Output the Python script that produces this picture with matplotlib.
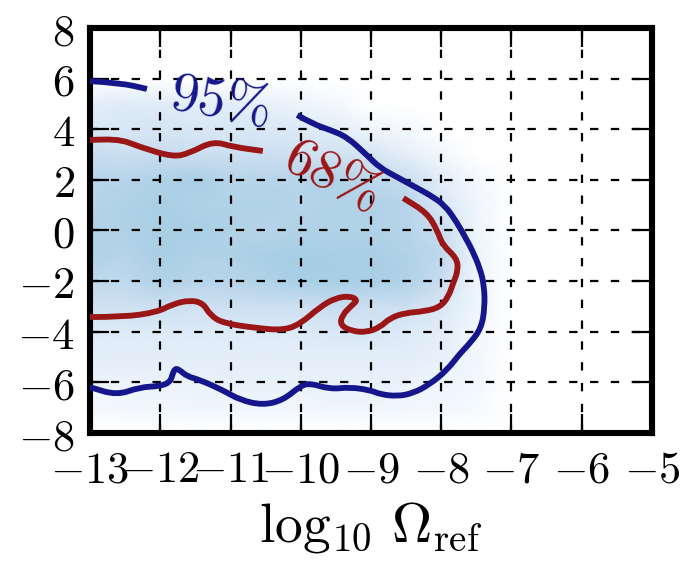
import numpy as np
import matplotlib
matplotlib.use("Agg")
import matplotlib.pyplot as plt
from matplotlib.path import Path
from matplotlib.patches import PathPatch
from matplotlib.colors import ListedColormap

# density grid (nodes), 0 = white .. 1 = dark blue
grid_x = [-13, -12.5, -12, -11.5, -11, -10.5, -10, -9.5, -9, -8.5, -8, -7.5, -7]
grid_y = [6, 5, 4, 3, 2, 1, 0, -1, -2, -3, -4, -5, -6, -7, -8]
density = [
    [0.00, 0.00, 0.00, 0.00, 0.00, 0.00, 0.00, 0.00, 0.00, 0.00, 0.00, 0.00, 0.00],
    [0.10, 0.12, 0.12, 0.10, 0.10, 0.08, 0.05, 0.02, 0.00, 0.00, 0.00, 0.00, 0.00],
    [0.16, 0.16, 0.17, 0.16, 0.15, 0.15, 0.13, 0.10, 0.05, 0.02, 0.00, 0.00, 0.00],
    [0.24, 0.22, 0.24, 0.22, 0.22, 0.22, 0.20, 0.20, 0.17, 0.09, 0.03, 0.00, 0.00],
    [0.30, 0.30, 0.32, 0.34, 0.30, 0.30, 0.30, 0.32, 0.28, 0.24, 0.10, 0.02, 0.00],
    [0.30, 0.32, 0.34, 0.32, 0.32, 0.32, 0.30, 0.32, 0.32, 0.30, 0.16, 0.04, 0.00],
    [0.32, 0.32, 0.34, 0.34, 0.32, 0.30, 0.32, 0.32, 0.32, 0.30, 0.24, 0.05, 0.00],
    [0.32, 0.30, 0.34, 0.32, 0.32, 0.34, 0.35, 0.34, 0.34, 0.32, 0.27, 0.05, 0.00],
    [0.27, 0.27, 0.32, 0.30, 0.30, 0.32, 0.34, 0.34, 0.34, 0.32, 0.24, 0.05, 0.00],
    [0.20, 0.20, 0.22, 0.20, 0.22, 0.22, 0.22, 0.24, 0.22, 0.22, 0.16, 0.04, 0.00],
    [0.13, 0.13, 0.13, 0.13, 0.13, 0.13, 0.13, 0.15, 0.16, 0.13, 0.10, 0.03, 0.00],
    [0.10, 0.10, 0.10, 0.10, 0.10, 0.10, 0.10, 0.10, 0.10, 0.10, 0.08, 0.03, 0.00],
    [0.06, 0.06, 0.06, 0.07, 0.08, 0.08, 0.08, 0.08, 0.08, 0.07, 0.05, 0.02, 0.00],
    [0.02, 0.03, 0.04, 0.04, 0.04, 0.04, 0.03, 0.04, 0.04, 0.03, 0.03, 0.01, 0.00],
    [0.00, 0.00, 0.00, 0.00, 0.00, 0.00, 0.00, 0.00, 0.00, 0.00, 0.00, 0.00, 0.00],
]

# 95% contour, two pieces (gap for the label)
c95a_x = [-13.0, -12.57, -12.19]
c95a_y = [5.90, 5.83, 5.59]
c95b_x = [-10.05, -9.83, -9.58, -9.34, -9.06, -8.87, -8.63, -8.40, -8.16, -7.95, -7.78,
          -7.66, -7.56, -7.45, -7.39, -7.38, -7.43, -7.59, -7.73, -7.92, -8.16, -8.40,
          -8.63, -8.87, -9.01, -9.30, -9.58, -9.87, -10.01, -10.25, -10.54, -10.86,
          -11.11, -11.43, -11.62, -11.72, -11.79, -11.83, -11.86, -12.00, -12.29,
          -12.62, -13.0]
c95b_y = [4.56, 4.21, 3.97, 3.69, 2.98, 2.47, 2.11, 1.76, 1.40, 1.00, 0.33,
          -0.26, -0.77, -1.49, -2.16, -3.03, -3.86, -4.45, -4.85, -5.52, -6.07, -6.43,
          -6.55, -6.47, -6.31, -6.19, -6.27, -6.03, -6.15, -6.70, -6.90, -6.70,
          -6.31, -5.91, -5.76, -5.52, -5.44, -5.72, -5.99, -6.15, -6.19,
          -6.51, -6.19]

# 68% contour, two pieces
c68a_x = [-13.0, -12.62, -12.29, -11.82, -11.58, -11.25, -10.96, -10.54]
c68a_y = [3.57, 3.65, 3.30, 2.90, 3.06, 3.53, 3.30, 3.14]
c68b_x = [-13.0, -12.53, -12.05, -11.82, -11.58, -11.39, -11.29, -11.11, -10.62, -10.25,
          -10.01, -9.73, -9.51, -9.30, -9.19, -9.27, -9.41, -9.44, -9.27, -9.06, -8.87,
          -8.73, -8.52, -8.23, -8.02, -7.90, -7.83, -7.76, -7.78, -7.98, -8.06, -8.20,
          -8.54]
c68b_y = [-3.42, -3.42, -3.23, -2.91, -2.75, -2.87, -3.34, -3.66, -3.86, -3.94,
          -3.70, -3.03, -2.67, -2.59, -2.75, -2.95, -3.34, -3.74, -3.98, -4.02, -3.82,
          -3.46, -3.26, -3.19, -3.03, -2.63, -2.08, -1.57, -1.09, -0.58, 0.02, 0.69,
          1.28]

xticks = [-13, -12, -11, -10, -9, -8, -7, -6, -5]
yticks = [-8, -6, -4, -2, 0, 2, 4, 6, 8]


def smooth_line(ax, xs, ys, color):
    # quadratic bezier through midpoints, so the contour looks rounded
    pts = np.column_stack([xs, ys])
    verts = [pts[0]]
    codes = [Path.MOVETO]
    for i in range(1, len(pts) - 1):
        mid = (pts[i] + pts[i + 1]) / 2
        verts += [pts[i], mid]
        codes += [Path.CURVE3, Path.CURVE3]
    verts.append(pts[-1])
    codes.append(Path.LINETO)
    patch = PathPatch(Path(verts, codes), fill=False, edgecolor=color, lw=4.2,
                      capstyle='butt', joinstyle='round', zorder=3)
    ax.add_patch(patch)


plt.rcParams['mathtext.fontset'] = 'cm'
plt.rcParams['font.family'] = 'serif'
plt.rcParams['lines.scale_dashes'] = False

blues = plt.cm.Blues(np.linspace(0, 1, 256))
blues[0] = [1, 1, 1, 1]
cmap = ListedColormap(blues)

fig = plt.figure(figsize=(6.84, 5.64), dpi=100)
ax = fig.add_axes([0.1316, 0.2323, 0.8216, 0.7181])

X, Y = np.meshgrid(grid_x, grid_y)
ax.pcolormesh(X, Y, np.array(density), cmap=cmap, vmin=0, vmax=1,
              shading='gouraud', zorder=0)

navy = '#16168c'
darkred = '#9b1616'
smooth_line(ax, c95a_x, c95a_y, navy)
smooth_line(ax, c95b_x, c95b_y, navy)
smooth_line(ax, c68a_x, c68a_y, darkred)
smooth_line(ax, c68b_x, c68b_y, darkred)

ax.text(-11.15, 5.1, r'$\mathit{95\%}$', color=navy, fontsize=40,
        rotation=-10, ha='center', va='center', zorder=4)
ax.text(-9.55, 2.15, r'$\mathit{68\%}$', color=darkred, fontsize=40,
        rotation=-27, ha='center', va='center', zorder=4)

ax.set_xlim(-13, -5)
ax.set_ylim(-8, 8)
ax.set_xticks(xticks, labels=[f'${v}$' for v in xticks])
ax.set_yticks(yticks, labels=[f'${v}$' for v in yticks])
ax.tick_params(direction='in', length=14, width=1.6, top=True, right=True,
               labelsize=32, pad=11)
ax.grid(True, color='black', lw=1.6, linestyle=(0, (6, 9)))
ax.set_axisbelow(False)
for sp in ax.spines.values():
    sp.set_linewidth(4.4)

ax.set_xlabel(r'$\log_{10}\,\Omega_{\rm ref}$', fontsize=40, labelpad=6)

fig.savefig('out.png', dpi=100)
